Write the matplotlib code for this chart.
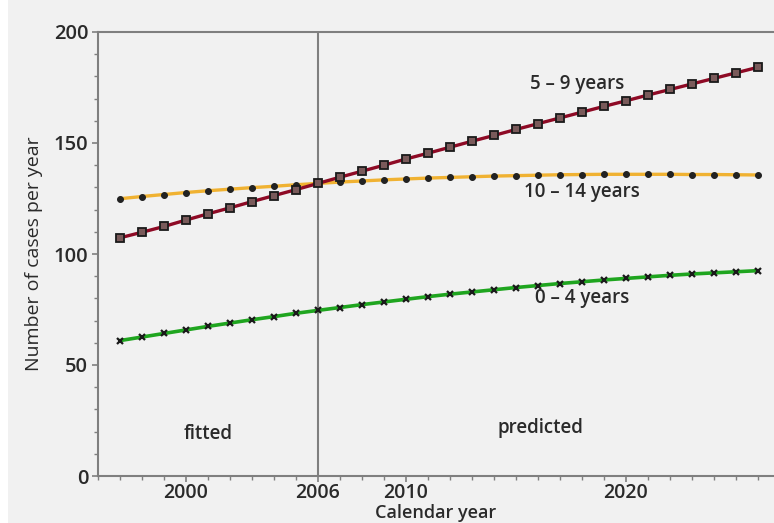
import matplotlib
matplotlib.use("Agg")
import matplotlib.pyplot as plt
from matplotlib.ticker import MultipleLocator, FixedLocator
from matplotlib.patches import Rectangle

plt.rcParams['font.family'] = ['Open Sans', 'DejaVu Sans']
plt.rcParams['font.weight'] = 'semibold'

years = list(range(1997, 2027))

cases_0_4 = [61.0, 62.6, 64.2, 65.8, 67.4, 68.9, 70.4, 71.8, 73.3, 74.6,
             75.9, 77.2, 78.4, 79.6, 80.8, 81.9, 82.9, 83.9, 84.9, 85.8,
             86.7, 87.5, 88.3, 89.0, 89.7, 90.4, 91.0, 91.5, 92.0, 92.5]

cases_5_9 = [107.3, 109.8, 112.4, 115.3, 118.1, 120.8, 123.6, 126.3, 129.0, 131.8,
             134.6, 137.3, 140.0, 142.8, 145.4, 148.1, 150.8, 153.4, 156.1, 158.7,
             161.3, 163.9, 166.5, 169.0, 171.6, 174.1, 176.6, 179.1, 181.6, 184.1]

cases_10_14 = [124.9, 125.9, 126.8, 127.7, 128.5, 129.2, 129.9, 130.5, 131.2, 131.8,
               132.4, 132.9, 133.4, 133.8, 134.2, 134.5, 134.8, 135.1, 135.3, 135.5,
               135.7, 135.8, 135.9, 135.9, 135.9, 135.9, 135.8, 135.8, 135.7, 135.6]

split_year = 2006
major_years = [2000, 2006, 2010, 2020]

bg = '#f1f1f1'
axis_col = '#7f7f7f'
text_col = '#2a2a2a'

fig = plt.figure(figsize=(7.74, 5.23), dpi=100, facecolor='white')
fig.patches.append(Rectangle((8 / 774, 0), 1, 1, transform=fig.transFigure,
                             facecolor=bg, edgecolor='none', zorder=-10))

ax = fig.add_axes([98 / 774, 47 / 523, 1 - 98 / 774, (476 - 32) / 523])
ax.set_facecolor(bg)
ax.set_xlim(1996, 2026.73)
ax.set_ylim(0, 200)

ax.axvline(split_year, color=axis_col, lw=1.5, zorder=1)

ax.plot(years, cases_10_14, color='#f0b232', lw=2.4, zorder=2,
        marker='o', ms=4.2, mfc='#222222', mec='#222222', mew=0.8)
ax.plot(years, cases_5_9, color='#8e0a25', lw=2.4, zorder=3,
        marker='s', ms=5.5, mfc='#7a5a5a', mec='#1a1a1a', mew=1.3)
ax.plot(years, cases_0_4, color='#1fa51f', lw=2.6, zorder=2,
        marker='x', ms=5, mec='#1a1a1a', mew=1.6)

for side in ['left', 'bottom', 'top']:
    ax.spines[side].set_color(axis_col)
    ax.spines[side].set_linewidth(1.5)
ax.spines['right'].set_visible(False)

ax.xaxis.set_major_locator(FixedLocator(major_years))
ax.xaxis.set_minor_locator(MultipleLocator(1))
ax.yaxis.set_major_locator(MultipleLocator(50))
ax.yaxis.set_minor_locator(MultipleLocator(10))
ax.tick_params(axis='both', which='major', length=4, width=1.2, color=axis_col,
               labelsize=14, labelcolor=text_col)
ax.tick_params(axis='both', which='minor', length=3, width=1.0, color=axis_col)
ax.tick_params(axis='x', which='major', pad=1)
ax.tick_params(axis='y', which='major', pad=3, labelsize=14.5)

fig.text(0.5625, 0.001, 'Calendar year', fontsize=13, color=text_col,
         ha='center', va='bottom')
ax.set_ylabel('Number of cases per year', fontsize=14, color=text_col, labelpad=8)

ax.text(2017.8, 176.6, '5 – 9 years', fontsize=13.5, color=text_col, ha='center', va='center')
ax.text(2018.0, 128.0, '10 – 14 years', fontsize=13.5, color=text_col, ha='center', va='center')
ax.text(2018.0, 80.2, '0 – 4 years', fontsize=13.5, color=text_col, ha='center', va='center')
ax.text(2001.0, 18.9, 'fitted', fontsize=13.5, color=text_col, ha='center', va='center')
ax.text(2016.1, 21.6, 'predicted', fontsize=13.5, color=text_col, ha='center', va='center')

fig.savefig('out.png', dpi=100, facecolor='white')
